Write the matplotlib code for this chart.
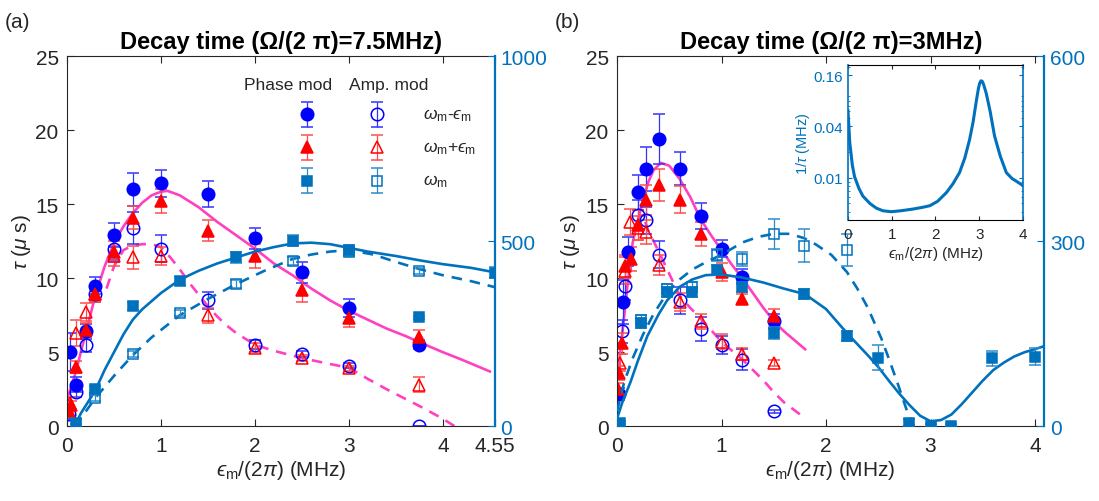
import matplotlib
matplotlib.use("Agg")
import matplotlib.pyplot as plt

plt.rcParams['font.family'] = ['Liberation Sans', 'DejaVu Sans']
plt.rcParams['mathtext.fontset'] = 'custom'
plt.rcParams['mathtext.rm'] = 'Liberation Sans'
plt.rcParams['mathtext.it'] = 'Liberation Sans:italic'
plt.rcParams['mathtext.fallback'] = 'stixsans'

MBLUE = '#0072BD'
PINK = '#FF40C0'
GRAY = '#262626'

# ---------------- panel (a): Omega/2pi = 7.5 MHz ----------------
a_pm_x = [0.03, 0.1, 0.2, 0.3, 0.5, 0.7, 1.0, 1.5, 2.0, 2.5, 3.0, 3.75]
a_pm_y = [5.0, 2.8, 6.4, 9.5, 12.9, 16.0, 16.4, 15.7, 12.7, 10.4, 8.0, 5.5]
a_pm_e = [1.3, 0.5, 0.5, 0.6, 0.8, 1.1, 0.9, 0.9, 0.7, 0.7, 0.6, 0.3]

a_pp_x = [0.02, 0.04, 0.1, 0.2, 0.3, 0.5, 0.7, 1.0, 1.5, 2.0, 2.5, 3.0, 3.75]
a_pp_y = [1.0, 1.4, 4.0, 6.5, 8.9, 11.8, 14.1, 15.2, 13.2, 11.5, 9.2, 7.3, 6.0]
a_pp_e = [0.3, 0.3, 0.4, 0.5, 0.5, 0.7, 0.8, 0.8, 0.7, 0.8, 0.8, 0.6, 0.5]

a_am_x = [0.02, 0.1, 0.2, 0.3, 0.5, 0.7, 1.0, 1.5, 2.0, 2.5, 3.0, 3.75]
a_am_y = [0.8, 2.3, 5.5, 8.9, 12.0, 13.4, 12.0, 8.5, 5.5, 4.9, 4.1, 0.0]
a_am_e = [0.3, 0.3, 0.5, 0.5, 0.8, 1.1, 0.9, 0.6, 0.3, 0.2, 0.2, 0.0]

a_ap_x = [0.03, 0.1, 0.2, 0.3, 0.5, 0.7, 1.0, 1.5, 2.0, 2.5, 3.0, 3.75]
a_ap_y = [1.6, 6.3, 7.7, 8.9, 11.5, 11.4, 11.5, 7.5, 5.3, 4.6, 3.9, 2.8]
a_ap_e = [0.4, 0.9, 0.6, 0.4, 0.7, 0.8, 0.6, 0.5, 0.3, 0.2, 0.2, 0.5]

a_psq_x = [0.1, 0.3, 0.7, 1.2, 1.8, 2.4, 3.0, 3.75, 4.55]
a_psq_y = [10, 100, 325, 393, 456, 501, 476, 294, 415]
a_psq_e = [5, 10, 10, 10, 15, 15, 15, 5, 15]

a_asq_x = [0.3, 0.7, 1.2, 1.8, 2.4, 3.0, 3.75]
a_asq_y = [75, 195, 305, 384, 447, 472, 420]
a_asq_e = [8, 8, 8, 10, 10, 10, 8]

a_fit_p_x = [0, 0.05, 0.1, 0.15, 0.2, 0.3, 0.4, 0.5, 0.6, 0.7, 0.8, 0.9, 1.0, 1.07, 1.2,
             1.4, 1.5, 1.6, 1.8, 2.0, 2.2, 2.4, 2.6, 2.8, 3.0, 3.2, 3.4, 3.6, 3.76, 4.0,
             4.2, 4.5]
a_fit_p_y = [1.8, 2.8, 3.8, 5.1, 6.3, 8.8, 10.8, 12.4, 13.5, 14.4, 15.1, 15.6, 15.85, 15.9,
             15.6, 14.8, 14.3, 13.8, 12.9, 12.0, 11.0, 10.2, 9.3, 8.5, 7.8, 7.2, 6.6, 6.1,
             5.65, 5.0, 4.5, 3.7]
a_fit_a_x = [0.42, 0.5, 0.6, 0.7, 0.8, 0.9, 1.0, 1.1, 1.2, 1.3, 1.4, 1.5, 1.6, 1.7, 1.8,
             2.0, 2.2, 2.5, 2.8, 3.0, 3.2, 3.4, 3.6, 3.8, 4.0, 4.2]
a_fit_a_y = [9.3, 10.8, 11.9, 12.2, 12.3, 12.3, 12.1, 11.4, 10.6, 9.7, 8.9, 8.1, 7.4, 6.8,
             6.3, 5.5, 5.1, 4.6, 4.2, 3.95, 3.2, 2.5, 1.85, 1.2, 0.5, -0.3]
a_fit_psq_x = [0.08, 0.15, 0.2, 0.3, 0.4, 0.5, 0.6, 0.7, 0.8, 1.0, 1.2, 1.4, 1.6, 1.8, 2.0,
               2.2, 2.4, 2.6, 2.8, 3.0, 3.2, 3.5, 3.76, 4.0, 4.3, 4.55]
a_fit_psq_y = [0, 36, 56, 96, 152, 200, 248, 288, 316, 360, 396, 420, 440, 456, 472, 484,
               494, 496, 492, 482, 472, 460, 448, 438, 428, 416]
a_fit_asq_x = [0.08, 0.2, 0.3, 0.5, 0.7, 0.9, 1.2, 1.5, 1.8, 2.1, 2.4, 2.6, 2.8, 3.0, 3.26,
               3.5, 3.76, 4.0, 4.3, 4.55]
a_fit_asq_y = [0, 40, 76, 136, 192, 240, 300, 344, 384, 420, 452, 464, 472, 476, 464, 444,
               424, 408, 392, 376]

# ---------------- panel (b): Omega/2pi = 3 MHz ----------------
b_pm_x = [0.02, 0.06, 0.11, 0.2, 0.28, 0.4, 0.6, 0.8, 1.0, 1.2, 1.5]
b_pm_y = [2.2, 8.4, 11.8, 15.8, 17.4, 19.4, 17.4, 14.2, 12.0, 10.1, 7.1]
b_pm_e = [0.4, 1.5, 1.0, 1.2, 1.5, 1.7, 1.1, 0.9, 0.6, 0.5, 0.5]

b_pp_x = [0.01, 0.02, 0.05, 0.08, 0.13, 0.2, 0.28, 0.4, 0.6, 0.8, 1.0, 1.2, 1.5]
b_pp_y = [2.5, 3.6, 5.6, 10.8, 11.3, 13.6, 15.3, 16.3, 15.3, 13.0, 10.4, 8.6, 7.45]
b_pp_e = [0.4, 0.5, 0.7, 0.8, 0.8, 1.0, 1.0, 1.1, 0.9, 0.8, 0.6, 0.3, 0.5]

b_am_x = [0.05, 0.08, 0.2, 0.28, 0.4, 0.6, 0.8, 1.0, 1.2, 1.5]
b_am_y = [6.4, 9.5, 14.3, 13.9, 11.6, 8.5, 6.55, 5.5, 4.5, 1.0]
b_am_e = [0.8, 1.0, 1.0, 0.9, 0.9, 0.9, 0.8, 0.6, 0.7, 0.1]

b_ap_x = [0.03, 0.08, 0.12, 0.2, 0.28, 0.4, 0.6, 0.8, 1.0, 1.2, 1.5]
b_ap_y = [4.3, 10.5, 13.8, 13.4, 13.1, 10.9, 8.4, 7.1, 5.7, 4.9, 4.25]
b_ap_e = [0.6, 0.9, 0.9, 0.8, 0.8, 0.7, 0.6, 0.5, 0.5, 0.4, 0.2]

b_psq_x = [0.03, 0.23, 0.48, 0.72, 0.96, 1.2, 1.5, 1.79, 2.2, 2.5, 2.79, 3.0, 3.2, 3.59, 4.0]
b_psq_y = [6, 168, 218, 218, 253, 226, 151, 215, 146, 111, 6, 1, 1, 110, 113]
b_psq_e = [3, 8, 8, 8, 8, 8, 10, 8, 8, 20, 5, 3, 3, 12, 14]

b_asq_x = [0.23, 0.48, 0.72, 0.96, 1.2, 1.5, 1.79, 2.2]
b_asq_y = [173, 223, 226, 278, 271, 312, 293, 286]
b_asq_e = [8, 8, 8, 10, 12, 24, 26, 26]

b_fit_p_x = [0.0, 0.03, 0.07, 0.1, 0.15, 0.2, 0.25, 0.3, 0.35, 0.42, 0.5, 0.6, 0.7, 0.8,
             0.9, 1.0, 1.1, 1.2, 1.3, 1.4, 1.5, 1.6, 1.7, 1.8]
b_fit_p_y = [3.0, 5.0, 7.5, 9.5, 12.4, 13.9, 15.3, 16.5, 17.3, 17.8, 17.6, 16.7, 15.5, 14.0,
             12.9, 11.9, 10.9, 10.0, 9.0, 8.0, 7.1, 6.4, 5.8, 5.2]
b_fit_a_x = [0.27, 0.3, 0.4, 0.5, 0.6, 0.7, 0.8, 0.9, 1.0, 1.1, 1.2, 1.3, 1.4, 1.5, 1.6, 1.75]
b_fit_a_y = [13.8, 13.2, 11.8, 10.3, 8.8, 8.0, 7.3, 6.5, 5.7, 5.1, 4.5, 3.8, 3.1, 2.3, 1.6, 0.8]
b_fit_psq_x = [0, 0.05, 0.13, 0.2, 0.29, 0.4, 0.48, 0.6, 0.72, 0.85, 1.0, 1.2, 1.4, 1.6, 1.8,
               2.0, 2.2, 2.4, 2.5, 2.6, 2.7, 2.8, 2.9, 3.0, 3.1, 3.2, 3.3, 3.4, 3.5, 3.6,
               3.7, 3.8, 3.9, 4.0, 4.09]
b_fit_psq_y = [12, 38, 72, 106, 146, 182, 204, 226, 238, 245, 246, 241, 233, 223, 214, 190,
               151, 115, 96, 74, 53, 34, 17, 8, 10, 19, 36, 55, 74, 91, 103, 113, 120, 125, 130]
b_fit_asq_x = [0.0, 0.07, 0.15, 0.25, 0.35, 0.48, 0.6, 0.72, 0.85, 1.0, 1.2, 1.35, 1.5, 1.65,
               1.79, 1.9, 2.05, 2.2, 2.3, 2.4, 2.53, 2.6, 2.69, 2.78, 2.84]
b_fit_asq_y = [24, 72, 110, 149, 182, 216, 238, 254, 266, 278, 298, 307, 312, 312, 305, 295,
               278, 250, 223, 192, 142, 110, 67, 22, 0]

# inset: 1/tau vs eps_m
ins_x = [0, 0.04, 0.1, 0.15, 0.25, 0.34, 0.5, 0.65, 0.8, 0.99, 1.2, 1.49, 1.7, 1.87, 2.05,
         2.25, 2.4, 2.55, 2.67, 2.78, 2.86, 2.93, 2.98, 3.01, 3.04, 3.07, 3.1, 3.16, 3.25,
         3.35, 3.48, 3.62, 3.75, 3.85, 4.0]
ins_y = [0.061, 0.026, 0.014, 0.0103, 0.0075, 0.0061, 0.0050, 0.0044, 0.0041, 0.0040, 0.0041,
         0.0043, 0.0045, 0.0047, 0.0053, 0.0067, 0.0085, 0.0115, 0.017, 0.028, 0.045, 0.077,
         0.11, 0.128, 0.137, 0.135, 0.124, 0.098, 0.06, 0.031, 0.018, 0.0115, 0.0098, 0.0091,
         0.0081]


def eb(axis, x, y, e, marker, color, ecolor, filled, ms, **kw):
    axis.errorbar(x, y, yerr=e, fmt=marker, color=color, ecolor=ecolor,
                  mfc=color if filled else 'none', mec=color, ms=ms, mew=1.1,
                  elinewidth=0.9, capsize=4, capthick=0.9, **kw)


EPS = '\u03f5'
XLAB = '$' + EPS + r'_{\rm m}$/(2$\pi$) (MHz)'


def style_main(ax, ax2, xlim, xticks, xlabels, rlim, rticks):
    ax.set_xlim(*xlim)
    ax.set_ylim(0, 25)
    ax.set_xticks(xticks)
    ax.set_xticklabels(xlabels)
    ax.set_yticks([0, 5, 10, 15, 20, 25])
    ax.tick_params(direction='in', top=True, right=False, labelsize=15,
                   colors=GRAY, length=5)
    ax.tick_params(axis='x', pad=7)
    ax.tick_params(axis='y', pad=6)
    for s in ['left', 'top', 'bottom']:
        ax.spines[s].set_color(GRAY)
    ax.spines['right'].set_visible(False)
    ax2.set_ylim(*rlim)
    ax2.set_yticks(rticks)
    ax2.tick_params(axis='y', direction='in', colors=MBLUE, labelsize=15, length=5, pad=4)
    for s in ['left', 'top', 'bottom']:
        ax2.spines[s].set_visible(False)
    ax2.spines['right'].set_color(MBLUE)
    ax2.spines['right'].set_linewidth(1.6)
    ax.set_xlabel(XLAB, fontsize=15, color=GRAY, labelpad=2)
    ax.set_ylabel(r'$\tau$ ($\mu$ s)', fontsize=15, color=GRAY, labelpad=2)


fig = plt.figure(figsize=(10.99, 5.02), dpi=100)

# ---------- (a) ----------
axa = fig.add_axes([0.061, 0.149, 0.389, 0.737])
axa2 = axa.twinx()
axa.plot(a_fit_p_x, a_fit_p_y, color=PINK, lw=1.9, zorder=2)
axa.plot(a_fit_a_x, a_fit_a_y, color=PINK, lw=1.9, ls=(0, (4, 3)), zorder=2)
eb(axa, a_am_x, a_am_y, a_am_e, 'o', 'blue', '#3333FF', False, 9)
eb(axa, a_ap_x, a_ap_y, a_ap_e, '^', 'red', '#FF4D4D', False, 9)
eb(axa, a_pm_x, a_pm_y, a_pm_e, 'o', 'blue', '#3333FF', True, 9)
eb(axa, a_pp_x, a_pp_y, a_pp_e, '^', 'red', '#FF4D4D', True, 9)
axa2.plot(a_fit_psq_x, a_fit_psq_y, color=MBLUE, lw=1.9)
axa2.plot(a_fit_asq_x, a_fit_asq_y, color=MBLUE, lw=1.9, ls=(0, (4, 3)))
eb(axa2, a_asq_x, a_asq_y, a_asq_e, 's', MBLUE, '#2E8BCB', False, 6.5)
eb(axa2, a_psq_x, a_psq_y, a_psq_e, 's', MBLUE, '#2E8BCB', True, 6.5)
style_main(axa, axa2, (0, 4.55), [0, 1, 2, 3, 4, 4.55], ['0', '1', '2', '3', '4', '4.55'],
           (0, 1000), [0, 500, 1000])
axa.set_title('Decay time (Ω/(2 π)=7.5MHz)', fontsize=17, fontweight='bold', pad=6)

# legend drawn by hand (two columns: phase mod / amp mod)
tr = axa.transAxes
axa.text(0.516, 0.924, 'Phase mod', transform=tr, ha='center', va='center', fontsize=12.5, color=GRAY)
axa.text(0.752, 0.924, 'Amp. mod', transform=tr, ha='center', va='center', fontsize=12.5, color=GRAY)
leg_rows = [(0.843, 'o', 'blue', '#3333FF', 9, r'$\omega_{\rm m}$-$' + EPS + r'_{\rm m}$'),
            (0.754, '^', 'red', '#FF4D4D', 9, r'$\omega_{\rm m}$+$' + EPS + r'_{\rm m}$'),
            (0.663, 's', MBLUE, '#2E8BCB', 6.5, r'$\omega_{\rm m}$')]
for fy, mk, c, ec, ms, lab in leg_rows:
    eb(axa, [0.561], [fy], [0.034], mk, c, ec, True, ms, transform=tr, clip_on=False)
    eb(axa, [0.724], [fy], [0.034], mk, c, ec, False, ms, transform=tr, clip_on=False)
    axa.text(0.832, fy, lab, transform=tr, ha='left', va='center', fontsize=12.5, color=GRAY)

# ---------- (b) ----------
axb = fig.add_axes([0.5614, 0.149, 0.389, 0.737])
axb2 = axb.twinx()
axb.plot(b_fit_p_x, b_fit_p_y, color=PINK, lw=1.9, zorder=2)
axb.plot(b_fit_a_x, b_fit_a_y, color=PINK, lw=1.9, ls=(0, (4, 3)), zorder=2)
eb(axb, b_am_x, b_am_y, b_am_e, 'o', 'blue', '#3333FF', False, 9)
eb(axb, b_ap_x, b_ap_y, b_ap_e, '^', 'red', '#FF4D4D', False, 9)
eb(axb, b_pm_x, b_pm_y, b_pm_e, 'o', 'blue', '#3333FF', True, 9)
eb(axb, b_pp_x, b_pp_y, b_pp_e, '^', 'red', '#FF4D4D', True, 9)
axb2.plot(b_fit_psq_x, b_fit_psq_y, color=MBLUE, lw=1.9)
axb2.plot(b_fit_asq_x, b_fit_asq_y, color=MBLUE, lw=1.9, ls=(0, (4, 3)))
eb(axb2, b_asq_x, b_asq_y, b_asq_e, 's', MBLUE, '#2E8BCB', False, 6.5)
eb(axb2, b_psq_x, b_psq_y, b_psq_e, 's', MBLUE, '#2E8BCB', True, 6.5)
style_main(axb, axb2, (0, 4.09), [0, 1, 2, 3, 4], ['0', '1', '2', '3', '4'],
           (0, 600), [0, 300, 600])
axb.set_title('Decay time (Ω/(2 π)=3MHz)', fontsize=17, fontweight='bold', pad=6)

# ---------- inset ----------
axi = fig.add_axes([0.7716, 0.5598, 0.1592, 0.3088])
axi.set_zorder(5)
axi.set_facecolor('white')
axi.plot(ins_x, ins_y, color=MBLUE, lw=2.2)
axi.set_yscale('log')
axi.set_xlim(0, 4)
axi.set_ylim(0.0032, 0.21)
axi.set_yticks([0.01, 0.04, 0.16])
axi.set_yticklabels(['0.01', '0.04', '0.16'])
axi.set_xticks([0, 1, 2, 3, 4])
axi.tick_params(axis='x', direction='in', top=True, labelsize=11, colors=GRAY, length=3, pad=5)
axi.tick_params(axis='y', which='both', direction='in', right=True, labelsize=11,
                colors=MBLUE, length=3)
axi.tick_params(axis='y', which='minor', length=1.5)
axi.spines['left'].set_color(MBLUE)
axi.spines['right'].set_color(MBLUE)
axi.spines['left'].set_linewidth(1.2)
axi.spines['right'].set_linewidth(1.2)
axi.set_xlabel(XLAB, fontsize=11, color=GRAY, labelpad=2)
axi.set_ylabel(r'1/$\tau$ (MHz)', fontsize=10.5, color=MBLUE, labelpad=1)

fig.text(0.004, 0.955, '(a)', fontsize=15, color=GRAY, va='center')
fig.text(0.505, 0.955, '(b)', fontsize=15, color=GRAY, va='center')

fig.savefig('out.png', dpi=100)
